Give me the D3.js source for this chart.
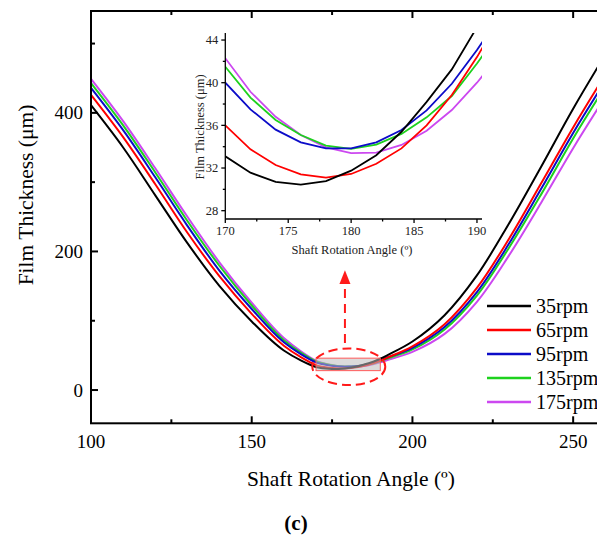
<!DOCTYPE html>
<html>
<head>
<meta charset="utf-8">
<script src="https://cdn.jsdelivr.net/npm/d3@7"></script>
<style>
  body { margin: 0; background: #fff; font-family: "Liberation Serif", serif; }
  svg { display: block; }
</style>
</head>
<body>
<div id="wrapper"></div>
<script>
// shaft angle (deg) for every point of the curves
const angles = [100, 110, 120, 130, 140, 150, 160,
  170, 172, 174, 176, 178, 180, 182, 184, 186, 188, 190, 192,
  200, 210, 220, 230, 240, 250, 260]

const rpm35 = [411, 350, 281, 212, 150, 99, 57,
  33.1, 31.56, 30.7, 30.44, 30.78, 31.75, 33.2, 35.4, 38.2, 41.25, 45.2, 49.8,
  70, 108, 165, 240, 322, 406, 484]
const rpm65 = [426, 365, 297, 227, 164, 110, 64,
  36.0, 33.75, 32.28, 31.4, 31.1, 31.44, 32.4, 33.84, 36.0, 38.84, 42.4, 46.4,
  63, 95, 147, 218, 298, 379, 455]
const rpm95 = [436, 375, 307, 237, 172, 117, 69,
  40.0, 37.5, 35.6, 34.4, 33.84, 33.84, 34.4, 35.56, 37.4, 39.9, 43.06, 46.6,
  61, 91, 141, 211, 290, 371, 446]
const rpm135 = [443, 382, 314, 244, 179, 122, 72,
  41.5, 38.6, 36.5, 35.1, 34.1, 33.8, 34.2, 35.2, 36.75, 38.75, 41.8, 45.1,
  58.6, 87.5, 136, 205, 282, 363, 438]
const rpm175 = [449, 388, 320, 250, 184, 126, 75,
  42.3, 39.15, 36.8, 35.1, 33.94, 33.4, 33.44, 34.16, 35.5, 37.44, 40.0, 42.9,
  55, 81, 127, 194, 270, 349, 423]

const seriesNames = ["35rpm", "65rpm", "95rpm", "135rpm", "175rpm"]
const seriesColors = ["#000000", "#ff0000", "#0c0cc8", "#1ed21e", "#cc48f0"]
const seriesValues = [rpm35, rpm65, rpm95, rpm135, rpm175]

const xTicks = [100, 150, 200, 250]
const xMinor = [125, 175, 225]
const yTicks = [0, 200, 400]
const yMinor = [100, 300, 500]

const insetXTicks = [170, 175, 180, 185, 190]
const insetYTicks = [28, 32, 36, 40, 44]
const insetYMinor = [30, 34, 38, 42]
const insetXMinor = [172.5, 177.5, 182.5, 187.5]

const series = seriesNames.map((name, i) => ({
  name: name,
  color: seriesColors[i],
  points: angles.map((a, j) => ({ angle: a, h: seriesValues[i][j] }))
}))

// bounds
const dms = { width: 597, height: 538 }
const frame = { left: 91, top: 11, right: 605.3, bottom: 423.3 }
const serif = "Liberation Serif, Times New Roman, serif"

const svg = d3.select("#wrapper")
  .append("svg")
  .attr("width", dms.width)
  .attr("height", dms.height)
  .attr("font-family", serif)

const xScale = d3.scaleLinear()
  .domain([100, 260])
  .range([frame.left, frame.right])

const yScale = d3.scaleLinear()
  .domain([-48, 547])
  .range([frame.bottom, frame.top])

svg.append("clipPath")
    .attr("id", "main-clip")
  .append("rect")
    .attr("x", frame.left)
    .attr("y", frame.top)
    .attr("width", frame.right - frame.left)
    .attr("height", frame.bottom - frame.top)

const lineGen = d3.line()
  .x(d => xScale(d.angle))
  .y(d => yScale(d.h))
  .curve(d3.curveCatmullRom.alpha(0.5))

const curves = svg.append("g").attr("clip-path", "url(#main-clip)")
curves.selectAll("path")
  .data(series.slice().reverse())
  .join("path")
    .attr("d", d => lineGen(d.points))
    .attr("fill", "none")
    .attr("stroke", d => d.color)
    .attr("stroke-width", 2)

// zoomed window marker
const zoomBox = svg.append("g")
zoomBox.append("rect")
  .attr("x", xScale(170))
  .attr("y", yScale(46))
  .attr("width", xScale(190) - xScale(170))
  .attr("height", yScale(28) - yScale(46))
  .attr("fill", "#bdbdbd")
  .attr("fill-opacity", 0.55)
  .attr("stroke", "#ff5a5a")
  .attr("stroke-width", 1)

zoomBox.append("ellipse")
  .attr("cx", xScale(180.2))
  .attr("cy", yScale(33.6))
  .attr("rx", 36.5)
  .attr("ry", 18.3)
  .attr("fill", "none")
  .attr("stroke", "#ff1a1a")
  .attr("stroke-width", 2)
  .attr("stroke-dasharray", "9 5")

const arrowX = xScale(179)
zoomBox.append("line")
  .attr("x1", arrowX)
  .attr("x2", arrowX)
  .attr("y1", yScale(68))
  .attr("y2", yScale(154))
  .attr("stroke", "#ff1a1a")
  .attr("stroke-width", 2)
  .attr("stroke-dasharray", "9 6")
zoomBox.append("path")
  .attr("d", `M${arrowX},${yScale(173)} L${arrowX - 5.5},${yScale(153)} L${arrowX + 5.5},${yScale(153)} Z`)
  .attr("fill", "#ff1a1a")

// frame + axes
const axisG = svg.append("g")
  .attr("stroke", "#000")
  .attr("stroke-width", 2)
  .attr("fill", "none")

axisG.append("rect")
  .attr("x", frame.left)
  .attr("y", frame.top)
  .attr("width", frame.right - frame.left)
  .attr("height", frame.bottom - frame.top)

const tickLen = 7
const minorLen = 4
xTicks.forEach(t => {
  axisG.append("line").attr("x1", xScale(t)).attr("x2", xScale(t))
    .attr("y1", frame.bottom).attr("y2", frame.bottom - tickLen)
  axisG.append("line").attr("x1", xScale(t)).attr("x2", xScale(t))
    .attr("y1", frame.top).attr("y2", frame.top + tickLen)
})
xMinor.forEach(t => {
  axisG.append("line").attr("x1", xScale(t)).attr("x2", xScale(t))
    .attr("y1", frame.bottom).attr("y2", frame.bottom - minorLen)
  axisG.append("line").attr("x1", xScale(t)).attr("x2", xScale(t))
    .attr("y1", frame.top).attr("y2", frame.top + minorLen)
})
yTicks.forEach(t => {
  axisG.append("line").attr("x1", frame.left).attr("x2", frame.left + tickLen)
    .attr("y1", yScale(t)).attr("y2", yScale(t))
})
yMinor.forEach(t => {
  axisG.append("line").attr("x1", frame.left).attr("x2", frame.left + minorLen)
    .attr("y1", yScale(t)).attr("y2", yScale(t))
})

svg.append("g").selectAll("text")
  .data(xTicks)
  .join("text")
    .attr("x", d => xScale(d))
    .attr("y", 448)
    .attr("text-anchor", "middle")
    .attr("font-size", 19)
    .text(d => d)

svg.append("g").selectAll("text")
  .data(yTicks)
  .join("text")
    .attr("x", frame.left - 8)
    .attr("y", d => yScale(d) + 6.5)
    .attr("text-anchor", "end")
    .attr("font-size", 19)
    .text(d => d)

svg.append("text")
  .attr("x", 351)
  .attr("y", 486)
  .attr("text-anchor", "middle")
  .attr("font-size", 21.5)
  .text("Shaft Rotation Angle (º)")

svg.append("text")
  .attr("transform", "translate(33,195) rotate(-90)")
  .attr("text-anchor", "middle")
  .attr("font-size", 21.5)
  .text("Film Thickness (μm)")

svg.append("text")
  .attr("x", 296)
  .attr("y", 530)
  .attr("text-anchor", "middle")
  .attr("font-size", 21)
  .attr("font-weight", "bold")
  .text("(c)")

// legend
const legend = svg.append("g").selectAll("g")
  .data(series)
  .join("g")
    .attr("transform", (d, i) => `translate(487, ${306 + i * 24})`)
legend.append("line")
  .attr("x1", 0).attr("x2", 44)
  .attr("stroke", d => d.color)
  .attr("stroke-width", 2.5)
legend.append("text")
  .attr("x", 49)
  .attr("y", 7)
  .attr("font-size", 20)
  .text(d => d.name)

// inset
const inset = { left: 225.3, right: 482, top: 33, bottom: 219 }
const ix = d3.scaleLinear().domain([170, 190.4]).range([inset.left, inset.right])
const iy = d3.scaleLinear().domain([27.22, 44.66]).range([inset.bottom, inset.top])

svg.append("clipPath")
    .attr("id", "inset-clip")
  .append("rect")
    .attr("x", inset.left)
    .attr("y", inset.top)
    .attr("width", inset.right - inset.left)
    .attr("height", inset.bottom - inset.top)

const insetLine = d3.line()
  .x(d => ix(d.angle))
  .y(d => iy(d.h))

svg.append("g")
    .attr("clip-path", "url(#inset-clip)")
  .selectAll("path")
  .data(series.slice().reverse())
  .join("path")
    .attr("d", d => insetLine(d.points.filter(p => p.angle >= 170 && p.angle <= 192)))
    .attr("fill", "none")
    .attr("stroke", d => d.color)
    .attr("stroke-width", 1.8)

const insetAxis = svg.append("g")
  .attr("stroke", "#000")
  .attr("stroke-width", 1.3)
insetAxis.append("line")
  .attr("x1", inset.left).attr("x2", inset.left)
  .attr("y1", inset.top).attr("y2", inset.bottom)
insetAxis.append("line")
  .attr("x1", inset.left).attr("x2", inset.right)
  .attr("y1", inset.bottom).attr("y2", inset.bottom)
insetYTicks.forEach(t => {
  insetAxis.append("line").attr("x1", inset.left - 4).attr("x2", inset.left)
    .attr("y1", iy(t)).attr("y2", iy(t))
})
insetYMinor.forEach(t => {
  insetAxis.append("line").attr("x1", inset.left - 2.5).attr("x2", inset.left)
    .attr("y1", iy(t)).attr("y2", iy(t))
})
insetXTicks.forEach(t => {
  insetAxis.append("line").attr("x1", ix(t)).attr("x2", ix(t))
    .attr("y1", inset.bottom).attr("y2", inset.bottom + 4)
})
insetXMinor.forEach(t => {
  insetAxis.append("line").attr("x1", ix(t)).attr("x2", ix(t))
    .attr("y1", inset.bottom).attr("y2", inset.bottom + 2.5)
})

svg.append("g").selectAll("text")
  .data(insetYTicks)
  .join("text")
    .attr("x", inset.left - 7)
    .attr("y", d => iy(d) + 4.3)
    .attr("text-anchor", "end")
    .attr("font-size", 12.5)
    .attr("fill", "#222")
    .text(d => d)

svg.append("g").selectAll("text")
  .data(insetXTicks)
  .join("text")
    .attr("x", d => ix(d))
    .attr("y", 235)
    .attr("text-anchor", "middle")
    .attr("font-size", 12.5)
    .attr("fill", "#222")
    .text(d => d)

svg.append("text")
  .attr("x", 352)
  .attr("y", 254)
  .attr("text-anchor", "middle")
  .attr("font-size", 12.5)
  .attr("fill", "#222")
  .text("Shaft Rotation Angle (º)")

svg.append("text")
  .attr("transform", "translate(204,127) rotate(-90)")
  .attr("text-anchor", "middle")
  .attr("font-size", 12.5)
  .attr("fill", "#222")
  .text("Film Thickness (μm)")
</script>
</body>
</html>
